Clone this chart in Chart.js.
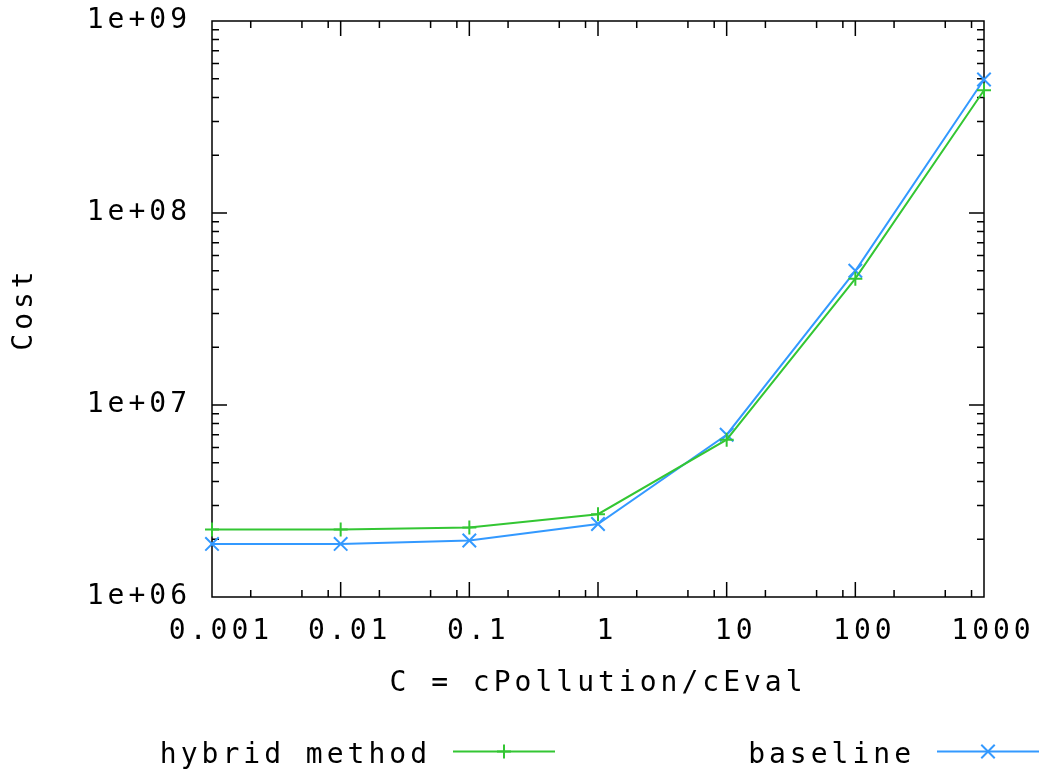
<!DOCTYPE html>
<html>
<head>
<meta charset="utf-8">
<title>Cost vs C</title>
<script src="https://cdn.jsdelivr.net/npm/chart.js@4/dist/chart.umd.min.js"></script>
<style>
  html, body { margin: 0; padding: 0; background: #ffffff; }
  #wrap { width: 1041px; height: 774px; }
</style>
</head>
<body>
<div id="wrap"><canvas id="c" width="1041" height="774"></canvas></div>
<script>
// C = cPollution / cEval
const ratios = [0.001, 0.01, 0.1, 1, 10, 100, 1000];
// Total cost per method
const hybridCost = [2.25e6, 2.25e6, 2.30e6, 2.70e6, 6.6e6, 4.55e7, 4.36e8];
const baselineCost = [1.89e6, 1.89e6, 1.97e6, 2.40e6, 7.0e6, 5.0e7, 4.96e8];
const seriesNames = ['hybrid method', 'baseline'];

// Axis ticks
const xTickValues = [0.001, 0.01, 0.1, 1, 10, 100, 1000];
const xTickLabels = ['0.001', '0.01', '0.1', '1', '10', '100', '1000'];
const yTickValues = [1e6, 1e7, 1e8, 1e9];
const yTickLabels = ['1e+06', '1e+07', '1e+08', '1e+09'];
const xMinorSteps = [2, 5, 8];
const yMinorSteps = [2, 3, 4, 5, 6, 7, 8, 9];

const GREEN = '#33c633';
const BLUE = '#3399ff';
const FONT = "'DejaVu Sans Mono', 'Liberation Mono', monospace";

Chart.defaults.font.family = FONT;
Chart.defaults.font.size = 28;
Chart.defaults.color = '#000000';

// Wide monospace spacing for all canvas text
const spacing = {
  id: 'spacing',
  beforeDraw(chart) { chart.ctx.letterSpacing = '4px'; }
};

// Closed frame with inward major/minor ticks mirrored on all sides
const frame = {
  id: 'frame',
  beforeDatasetsDraw(chart) {
    const { ctx, chartArea: a, scales: { x, y } } = chart;
    const MAJOR = 15, MINOR = 7;
    ctx.save();
    ctx.strokeStyle = '#000000';
    ctx.lineWidth = 1.5;
    ctx.beginPath();
    const seg = (x1, y1, x2, y2) => { ctx.moveTo(x1, y1); ctx.lineTo(x2, y2); };
    xTickValues.forEach((v, i) => {
      const p = x.getPixelForValue(v);
      seg(p, a.bottom, p, a.bottom - MAJOR);
      seg(p, a.top, p, a.top + MAJOR);
      if (i < xTickValues.length - 1) {
        xMinorSteps.forEach(m => {
          const q = x.getPixelForValue(v * m);
          seg(q, a.bottom, q, a.bottom - MINOR);
          seg(q, a.top, q, a.top + MINOR);
        });
      }
    });
    yTickValues.forEach((v, i) => {
      const p = y.getPixelForValue(v);
      seg(a.left, p, a.left + MAJOR, p);
      seg(a.right, p, a.right - MAJOR, p);
      if (i < yTickValues.length - 1) {
        yMinorSteps.forEach(m => {
          const q = y.getPixelForValue(v * m);
          seg(a.left, q, a.left + MINOR, q);
          seg(a.right, q, a.right - MINOR, q);
        });
      }
    });
    ctx.rect(a.left, a.top, a.right - a.left, a.bottom - a.top);
    ctx.stroke();
    ctx.restore();
  }
};

// Key below the axis title: label text followed by a line sample with its marker
const keyBox = {
  id: 'keyBox',
  afterDraw(chart) {
    const { ctx } = chart;
    const slots = [[453, 555], [937, 1039]];
    const lineY = 751.5;
    ctx.save();
    chart.data.datasets.forEach((ds, i) => {
      const [x0, x1] = slots[i];
      ctx.font = '28px ' + FONT;
      ctx.fillStyle = '#000000';
      ctx.textAlign = 'right';
      ctx.textBaseline = 'alphabetic';
      ctx.fillText(ds.label, x0 - 22, 763);
      ctx.strokeStyle = ds.borderColor;
      ctx.lineWidth = ds.borderWidth;
      ctx.beginPath();
      ctx.moveTo(x0, lineY);
      ctx.lineTo(x1, lineY);
      ctx.stroke();
      Chart.helpers.drawPoint(ctx, {
        pointStyle: ds.pointStyle,
        radius: ds.pointRadius,
        borderWidth: ds.pointBorderWidth,
        rotation: 0
      }, (x0 + x1) / 2, lineY);
    });
    ctx.restore();
  }
};

function series(name, values, color, style, radius) {
  return {
    label: name,
    data: ratios.map((r, i) => ({ x: r, y: values[i] })),
    borderColor: color,
    backgroundColor: color,
    borderWidth: 2,
    pointStyle: style,
    pointRadius: radius,
    pointHoverRadius: radius,
    pointBorderWidth: 2,
    pointBorderColor: color,
    tension: 0,
    fill: false,
    clip: false
  };
}

new Chart(document.getElementById('c'), {
  type: 'line',
  data: {
    datasets: [
      series(seriesNames[0], hybridCost, GREEN, 'cross', 7),
      series(seriesNames[1], baselineCost, BLUE, 'crossRot', 9.5)
    ]
  },
  options: {
    responsive: false,
    animation: false,
    events: [],
    layout: { padding: { top: 21, right: 57, left: 0, bottom: 0 } },
    plugins: {
      legend: { display: false },
      tooltip: { enabled: false }
    },
    scales: {
      x: {
        type: 'logarithmic',
        position: 'bottom',
        min: 0.001,
        max: 1000,
        afterBuildTicks: s => { s.ticks = xTickValues.map(v => ({ value: v })); },
        afterFit: s => {
          s.height = 177;
          s.paddingLeft = 0; s.paddingRight = 0;
        },
        grid: { display: false, drawTicks: false },
        border: { display: false },
        ticks: {
          autoSkip: false,
          maxRotation: 0,
          minRotation: 0,
          padding: 18,
          labelOffset: 9,
          callback: (v, i) => xTickLabels[i]
        },
        title: {
          display: true,
          text: 'C = cPollution/cEval',
          padding: { top: 0, bottom: 73 }
        }
      },
      y: {
        type: 'logarithmic',
        position: 'left',
        min: 1e6,
        max: 1e9,
        afterBuildTicks: s => { s.ticks = yTickValues.map(v => ({ value: v })); },
        afterFit: s => {
          s.width = 212;
          s.paddingTop = 0; s.paddingBottom = 0;
        },
        grid: { display: false, drawTicks: false },
        border: { display: false },
        ticks: {
          autoSkip: false,
          padding: 21,
          callback: (v, i) => yTickLabels[i]
        },
        title: {
          display: true,
          text: 'Cost',
          padding: { top: 8, bottom: 0 }
        }
      }
    }
  },
  plugins: [spacing, frame, keyBox]
});
</script>
</body>
</html>
